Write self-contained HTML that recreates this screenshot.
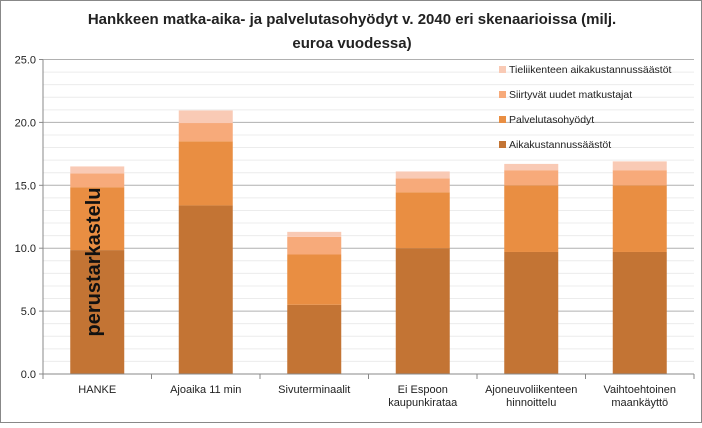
<!DOCTYPE html>
<html><head><meta charset="utf-8"><style>
body{margin:0;background:#fff;font-family:"Liberation Sans",sans-serif}
</style></head><body>
<svg width="702" height="423" xmlns="http://www.w3.org/2000/svg" font-family="Liberation Sans, sans-serif">
<rect x="0.5" y="0.5" width="701" height="422" fill="#fff" stroke="#888"/>
<text x="352" y="24" font-size="15" font-weight="bold" text-anchor="middle" fill="#222">Hankkeen matka-aika- ja palvelutasohyödyt v. 2040 eri skenaarioissa (milj.</text>
<text x="352" y="48" font-size="15" font-weight="bold" text-anchor="middle" fill="#222">euroa vuodessa)</text>
<g id="grid"></g><g id="bars"></g><g id="axes"></g>
<text transform="translate(100,262) rotate(-90)" font-size="20" font-weight="bold" text-anchor="middle" fill="#111">perustarkastelu</text>
<g id="legend"></g>
</svg>
<script>
const categories=[["HANKE"],["Ajoaika 11 min"],["Sivuterminaalit"],["Ei Espoon","kaupunkirataa"],["Ajoneuvoliikenteen","hinnoittelu"],["Vaihtoehtoinen","maankäyttö"]];
const seriesNames=["Aikakustannussäästöt","Palvelutasohyödyt","Siirtyvät uudet matkustajat","Tieliikenteen aikakustannussäästöt"];
const aika=[9.85,13.4,5.5,10.0,9.7,9.7];
const palvelu=[5.0,5.1,4.0,4.45,5.3,5.3];
const siirtyvat=[1.1,1.45,1.4,1.1,1.2,1.2];
const tie=[0.55,1.0,0.4,0.55,0.5,0.7];
const yTicks=[0,5,10,15,20,25];
const colors=["#C37434","#E98E42","#F7AA7A","#F9CAB5"];
const NS="http://www.w3.org/2000/svg";
const X0=43,X1=694,Y0=374,Y1=59.5,YMAX=25;
const band=(X1-X0)/categories.length;
const y=v=>Y0-(v/YMAX)*(Y0-Y1);
const bx=i=>X0+band*i+band/2;
function mk(t,a,p){const e=document.createElementNS(NS,t);for(const k in a)e.setAttribute(k,a[k]);p.appendChild(e);return e;}
const grid=document.getElementById('grid'),bars=document.getElementById('bars'),axes=document.getElementById('axes'),legend=document.getElementById('legend');
for(let v=1;v<=YMAX;v++){if(v%5===0)continue;const l=mk('line',{x1:X0,x2:X1,y1:y(v),y2:y(v),stroke:'#ececec'},grid);}
yTicks.forEach(v=>{if(v>0){const l=mk('line',{x1:X0,x2:X1,y1:y(v),y2:y(v),stroke:'#b0b0b0'},grid);}
const t=mk('text',{x:X0-7,y:y(v)+4,'font-size':11,'text-anchor':'end',fill:'#222'},axes);t.textContent=v.toFixed(1);
const tk=mk('line',{x1:X0-4,x2:X0,y1:y(v),y2:y(v),stroke:'#888'},axes);});
const series=[aika,palvelu,siirtyvat,tie];
categories.forEach((c,i)=>{let acc=0;series.forEach((s,k)=>{const r=mk('rect',{x:bx(i)-27,width:54,y:y(acc+s[i]),height:y(acc)-y(acc+s[i]),fill:colors[k]},bars);acc+=s[i];});
c.forEach((ln,j)=>{const t=mk('text',{x:bx(i),y:393+j*13,'font-size':11,'text-anchor':'middle',fill:'#222'},axes);t.textContent=ln;});});
for(let i=0;i<=categories.length;i++){const tk=mk('line',{x1:X0+band*i,x2:X0+band*i,y1:Y0,y2:Y0+5,stroke:'#888'},axes);}
let ax=mk('line',{x1:X0,x2:X0,y1:Y1,y2:Y0,stroke:'#888'},axes);
ax=mk('line',{x1:X0,x2:X1,y1:Y0,y2:Y0,stroke:'#888'},axes);
[3,2,1,0].forEach((k,j)=>{const yy=71+j*25;const r=mk('rect',{x:499,y:yy-5,width:7,height:7,fill:colors[k]},legend);
const t=mk('text',{x:509,y:yy+2,'font-size':10.5,fill:'#222'},legend);t.textContent=seriesNames[k];});
</script>
</body></html>
